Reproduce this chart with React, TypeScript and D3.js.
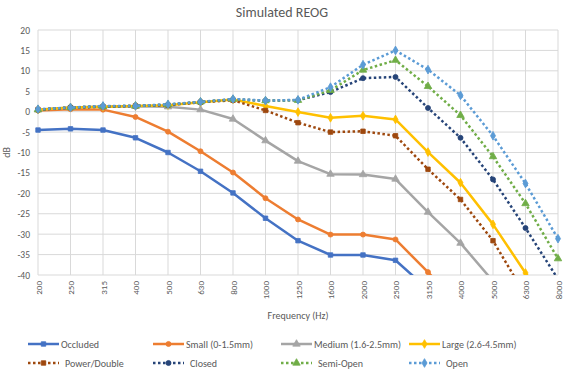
import React from "react";
import * as d3 from "d3";

const frequencies = ["200", "250", "315", "400", "500", "630", "800", "1000", "1250", "1600", "2000", "2500", "3150", "4000", "5000", "6300", "8000"];
const yTicks = [20, 15, 10, 5, 0, -5, -10, -15, -20, -25, -30, -35, -40];

const occluded = [-4.5, -4.2, -4.5, -6.4, -10.0, -14.6, -19.9, -26.1, -31.6, -35.1, -35.1, -36.4, -43.5, -50, -55, -60, -65];
const small = [0.3, 0.6, 0.5, -1.3, -4.9, -9.7, -14.9, -21.2, -26.4, -30.1, -30.1, -31.3, -39.3, -48, -55, -60, -65];
const medium = [0.5, 1.0, 1.2, 1.3, 1.2, 0.5, -1.8, -7.1, -12.1, -15.3, -15.4, -16.5, -24.6, -32.2, -41.5, -50, -55];
const large = [0.5, 1.0, 1.2, 1.4, 1.6, 2.3, 3.0, 1.4, -0.1, -1.5, -1.0, -1.9, -9.9, -17.4, -27.6, -39.5, -50];
const powerDouble = [0.5, 1.0, 1.2, 1.4, 1.6, 2.3, 2.8, 0.3, -2.7, -5.0, -4.8, -5.9, -14.1, -21.5, -31.6, -45, -55];
const closed = [0.5, 1.0, 1.3, 1.4, 1.7, 2.4, 3.0, 2.7, 2.8, 4.8, 8.2, 8.5, 0.9, -6.4, -16.6, -28.5, -41];
const semiOpen = [0.5, 1.0, 1.3, 1.4, 1.7, 2.4, 3.0, 2.7, 2.8, 5.2, 10.2, 12.6, 6.2, -0.9, -11.0, -22.5, -36.0];
const open = [0.6, 1.0, 1.4, 1.4, 1.8, 2.4, 3.1, 2.7, 2.9, 6.0, 11.5, 15.0, 10.3, 4.0, -5.9, -17.6, -31.1];

const series = [
  { name: "Occluded", values: occluded, color: "#4472C4", dotted: false, marker: "square" },
  { name: "Small (0-1.5mm)", values: small, color: "#ED7D31", dotted: false, marker: "circle" },
  { name: "Medium (1.6-2.5mm)", values: medium, color: "#A5A5A5", dotted: false, marker: "triangle" },
  { name: "Large (2.6-4.5mm)", values: large, color: "#FFC000", dotted: false, marker: "diamond" },
  { name: "Power/Double", values: powerDouble, color: "#9E480E", dotted: true, marker: "square" },
  { name: "Closed", values: closed, color: "#264478", dotted: true, marker: "circle" },
  { name: "Semi-Open", values: semiOpen, color: "#70AD47", dotted: true, marker: "triangle" },
  { name: "Open", values: open, color: "#5B9BD5", dotted: true, marker: "diamond" },
];

const W = 564;
const H = 370;
const left = 38;
const right = 558;
const top = 30;
const bottom = 275;
const font = "Calibri, Carlito, 'Open Sans', sans-serif";
const grey = "#595959";

const symbolFor: Record<string, d3.SymbolType> = {
  square: d3.symbolSquare,
  circle: d3.symbolCircle,
  triangle: d3.symbolTriangle,
  diamond: d3.symbolDiamond,
};

const Marker = ({ type, x, y, color }: { type: string; x: number; y: number; color: string }) => {
  const size = type === "diamond" ? 22 : type === "triangle" ? 24 : 20;
  const p = d3.symbol().type(symbolFor[type]).size(size)();
  return <path d={p || ""} transform={`translate(${x},${y})`} fill={color} stroke={color} strokeWidth={0.8} />;
};

const App = () => {
  const x = d3.scalePoint<string>().domain(frequencies).range([left, right]);
  const y = d3.scaleLinear().domain([-40, 20]).range([bottom, top]);
  const line = d3
    .line<number>()
    .x((_, i) => x(frequencies[i]) as number)
    .y((d) => y(d));

  const legendCols = [28, 153, 281, 409];
  const legendRows = [344, 363];

  return (
    <svg width={W} height={H} style={{ position: "absolute", left: 0, top: 0, background: "#fff" }}>
      <defs>
        <clipPath id="plot">
          <rect x={left - 6} y={top - 6} width={right - left + 12} height={bottom - top + 6} />
        </clipPath>
      </defs>
      <text x={W / 2} y={17} textAnchor="middle" fontFamily={font} fontSize={14} fill={grey}>
        Simulated REOG
      </text>
      {yTicks.map((t) => (
        <g key={t}>
          <line x1={left} x2={right} y1={y(t)} y2={y(t)} stroke="#D9D9D9" strokeWidth={1} />
          <text x={30} y={y(t) + 3.5} textAnchor="end" fontFamily={font} fontSize={9.5} fill={grey}>
            {t}
          </text>
        </g>
      ))}
      {frequencies.map((f) => (
        <g key={f}>
          <line x1={x(f)} x2={x(f)} y1={top} y2={bottom} stroke="#D9D9D9" strokeWidth={1} />
          <text
            transform={`translate(${(x(f) as number) + 3.5},${bottom + 6}) rotate(-90)`}
            textAnchor="end"
            fontFamily={font}
            fontSize={9}
            fill={grey}
          >
            {f}
          </text>
        </g>
      ))}
      <text transform={`translate(10,${(top + bottom) / 2}) rotate(-90)`} textAnchor="middle" fontFamily={font} fontSize={10} fill={grey}>
        dB
      </text>
      <text x={(left + right) / 2} y={319} textAnchor="middle" fontFamily={font} fontSize={10} fill={grey}>
        Frequency (Hz)
      </text>
      <g clipPath="url(#plot)">
        {series.map((s) => (
          <g key={s.name}>
            <path
              d={line(s.values) || ""}
              fill="none"
              stroke={s.color}
              strokeWidth={2.5}
              strokeDasharray={s.dotted ? "2.5 2.5" : undefined}
              strokeLinejoin="round"
            />
            {s.values.map((v, i) =>
              v >= -40 ? <Marker key={i} type={s.marker} x={x(frequencies[i]) as number} y={y(v)} color={s.color} /> : null
            )}
          </g>
        ))}
      </g>
      {series.map((s, i) => {
        const lx = legendCols[i % 4];
        const ly = legendRows[Math.floor(i / 4)];
        return (
          <g key={s.name}>
            <line
              x1={lx}
              x2={lx + 31}
              y1={ly}
              y2={ly}
              stroke={s.color}
              strokeWidth={2.5}
              strokeDasharray={s.dotted ? "2.5 2.5" : undefined}
            />
            <Marker type={s.marker} x={lx + 15.5} y={ly} color={s.color} />
            <text x={lx + (s.dotted ? 37 : 33)} y={ly + 3.5} fontFamily={font} fontSize={10} fill={grey}>
              {s.name}
            </text>
          </g>
        );
      })}
    </svg>
  );
};

export default App;
